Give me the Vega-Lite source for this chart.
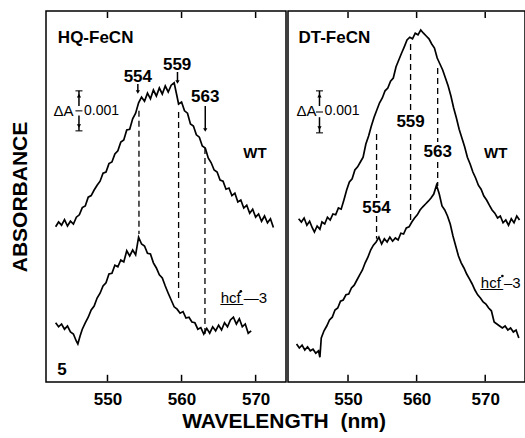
{
  "$schema": "https://vega.github.io/schema/vega-lite/v6.json",
  "padding": {"left": 8, "top": 10, "right": 3, "bottom": 6},
  "spacing": 0,
  "config": {
    "view": {"stroke": "black", "strokeWidth": 1.5},
    "font": "Liberation Sans",
    "axis": {"grid": false, "domain": false, "labelFont": "Liberation Sans", "labelFontSize": 17, "labelFontWeight": "bold", "labelColor": "black", "ticks": false, "tickSize": 0, "labelPadding": 9}
  },
  "title": {"text": "WAVELENGTH\u00a0\u00a0(nm)", "orient": "bottom", "anchor": "middle", "font": "Liberation Sans", "fontSize": 21, "fontWeight": "bold", "color": "black", "offset": 3, "dx": 17},
  "datasets": {
    "hq": [
      {"s":"WT","w":543.0,"a":3.88},{"s":"WT","w":543.4,"a":4.00},{"s":"WT","w":543.8,"a":3.92},{"s":"WT","w":544.2,"a":4.06},{"s":"WT","w":544.6,"a":3.90},{"s":"WT","w":545.0,"a":4.02},{"s":"WT","w":545.4,"a":3.95},{"s":"WT","w":545.8,"a":4.12},{"s":"WT","w":546.2,"a":4.18},{"s":"WT","w":546.6,"a":4.36},{"s":"WT","w":547.0,"a":4.40},{"s":"WT","w":547.4,"a":4.62},{"s":"WT","w":547.8,"a":4.66},{"s":"WT","w":548.2,"a":4.80},{"s":"WT","w":548.6,"a":4.92},{"s":"WT","w":549.0,"a":5.02},{"s":"WT","w":549.4,"a":5.22},{"s":"WT","w":549.8,"a":5.25},{"s":"WT","w":550.2,"a":5.46},{"s":"WT","w":550.6,"a":5.50},{"s":"WT","w":551.0,"a":5.70},{"s":"WT","w":551.4,"a":5.78},{"s":"WT","w":551.8,"a":6.00},{"s":"WT","w":552.2,"a":6.05},{"s":"WT","w":552.6,"a":6.30},{"s":"WT","w":553.0,"a":6.32},{"s":"WT","w":553.4,"a":6.58},{"s":"WT","w":553.8,"a":6.72},{"s":"WT","w":554.2,"a":6.98},{"s":"WT","w":554.6,"a":7.12},{"s":"WT","w":555.0,"a":7.02},{"s":"WT","w":555.4,"a":7.22},{"s":"WT","w":555.8,"a":7.08},{"s":"WT","w":556.2,"a":7.30},{"s":"WT","w":556.6,"a":7.15},{"s":"WT","w":557.0,"a":7.35},{"s":"WT","w":557.4,"a":7.20},{"s":"WT","w":557.8,"a":7.40},{"s":"WT","w":558.2,"a":7.25},{"s":"WT","w":558.6,"a":7.42},{"s":"WT","w":559.0,"a":7.48},{"s":"WT","w":559.3,"a":7.22},{"s":"WT","w":559.6,"a":6.95},{"s":"WT","w":560.0,"a":7.00},{"s":"WT","w":560.4,"a":6.78},{"s":"WT","w":560.8,"a":6.72},{"s":"WT","w":561.2,"a":6.45},{"s":"WT","w":561.6,"a":6.40},{"s":"WT","w":562.0,"a":6.18},{"s":"WT","w":562.4,"a":6.12},{"s":"WT","w":562.8,"a":5.90},{"s":"WT","w":563.2,"a":5.85},{"s":"WT","w":563.6,"a":5.60},{"s":"WT","w":564.0,"a":5.48},{"s":"WT","w":564.4,"a":5.30},{"s":"WT","w":564.8,"a":5.25},{"s":"WT","w":565.2,"a":5.05},{"s":"WT","w":565.6,"a":5.02},{"s":"WT","w":566.0,"a":4.82},{"s":"WT","w":566.4,"a":4.85},{"s":"WT","w":566.8,"a":4.66},{"s":"WT","w":567.2,"a":4.72},{"s":"WT","w":567.6,"a":4.50},{"s":"WT","w":568.0,"a":4.55},{"s":"WT","w":568.4,"a":4.35},{"s":"WT","w":568.8,"a":4.42},{"s":"WT","w":569.2,"a":4.22},{"s":"WT","w":569.6,"a":4.32},{"s":"WT","w":570.0,"a":4.12},{"s":"WT","w":570.4,"a":4.20},{"s":"WT","w":570.8,"a":4.02},{"s":"WT","w":571.2,"a":4.15},{"s":"WT","w":571.6,"a":3.98},{"s":"WT","w":572.0,"a":4.08},{"s":"WT","w":572.4,"a":3.86},
      {"s":"hcf","w":543.0,"a":1.48},{"s":"hcf","w":543.4,"a":1.38},{"s":"hcf","w":543.8,"a":1.45},{"s":"hcf","w":544.2,"a":1.32},{"s":"hcf","w":544.6,"a":1.40},{"s":"hcf","w":545.0,"a":1.25},{"s":"hcf","w":545.4,"a":1.20},{"s":"hcf","w":545.8,"a":1.02},{"s":"hcf","w":546.0,"a":0.95},{"s":"hcf","w":546.3,"a":1.15},{"s":"hcf","w":546.6,"a":1.32},{"s":"hcf","w":547.0,"a":1.48},{"s":"hcf","w":547.4,"a":1.62},{"s":"hcf","w":547.8,"a":1.80},{"s":"hcf","w":548.2,"a":1.90},{"s":"hcf","w":548.6,"a":2.10},{"s":"hcf","w":549.0,"a":2.22},{"s":"hcf","w":549.4,"a":2.40},{"s":"hcf","w":549.8,"a":2.48},{"s":"hcf","w":550.2,"a":2.70},{"s":"hcf","w":550.6,"a":2.72},{"s":"hcf","w":551.0,"a":2.92},{"s":"hcf","w":551.4,"a":2.88},{"s":"hcf","w":551.8,"a":3.05},{"s":"hcf","w":552.2,"a":3.00},{"s":"hcf","w":552.6,"a":3.28},{"s":"hcf","w":553.0,"a":3.15},{"s":"hcf","w":553.4,"a":3.30},{"s":"hcf","w":553.8,"a":3.18},{"s":"hcf","w":554.2,"a":3.62},{"s":"hcf","w":554.6,"a":3.45},{"s":"hcf","w":555.0,"a":3.40},{"s":"hcf","w":555.4,"a":3.22},{"s":"hcf","w":555.8,"a":3.20},{"s":"hcf","w":556.2,"a":2.98},{"s":"hcf","w":556.6,"a":2.85},{"s":"hcf","w":557.0,"a":2.68},{"s":"hcf","w":557.4,"a":2.60},{"s":"hcf","w":557.8,"a":2.40},{"s":"hcf","w":558.2,"a":2.22},{"s":"hcf","w":558.6,"a":2.05},{"s":"hcf","w":559.0,"a":1.88},{"s":"hcf","w":559.4,"a":1.82},{"s":"hcf","w":559.8,"a":1.72},{"s":"hcf","w":560.2,"a":1.76},{"s":"hcf","w":560.6,"a":1.60},{"s":"hcf","w":561.0,"a":1.62},{"s":"hcf","w":561.4,"a":1.50},{"s":"hcf","w":561.8,"a":1.48},{"s":"hcf","w":562.2,"a":1.32},{"s":"hcf","w":562.6,"a":1.36},{"s":"hcf","w":563.0,"a":1.20},{"s":"hcf","w":563.4,"a":1.34},{"s":"hcf","w":563.8,"a":1.22},{"s":"hcf","w":564.2,"a":1.38},{"s":"hcf","w":564.6,"a":1.28},{"s":"hcf","w":565.0,"a":1.42},{"s":"hcf","w":565.4,"a":1.30},{"s":"hcf","w":565.8,"a":1.48},{"s":"hcf","w":566.2,"a":1.38},{"s":"hcf","w":566.6,"a":1.55},{"s":"hcf","w":567.0,"a":1.62},{"s":"hcf","w":567.4,"a":1.45},{"s":"hcf","w":567.8,"a":1.58},{"s":"hcf","w":568.2,"a":1.38},{"s":"hcf","w":568.6,"a":1.45},{"s":"hcf","w":569.0,"a":1.22},{"s":"hcf","w":569.4,"a":1.28}
    ],
    "dt": [
      {"s":"WT","w":542.8,"a":4.08},{"s":"WT","w":543.2,"a":4.00},{"s":"WT","w":543.6,"a":4.10},{"s":"WT","w":544.0,"a":3.92},{"s":"WT","w":544.4,"a":4.02},{"s":"WT","w":544.8,"a":3.85},{"s":"WT","w":545.1,"a":3.75},{"s":"WT","w":545.5,"a":3.90},{"s":"WT","w":545.9,"a":3.82},{"s":"WT","w":546.2,"a":4.00},{"s":"WT","w":546.6,"a":3.95},{"s":"WT","w":547.0,"a":4.12},{"s":"WT","w":547.4,"a":4.05},{"s":"WT","w":547.8,"a":4.20},{"s":"WT","w":548.2,"a":4.18},{"s":"WT","w":548.6,"a":4.35},{"s":"WT","w":549.0,"a":4.32},{"s":"WT","w":549.4,"a":4.55},{"s":"WT","w":549.8,"a":4.80},{"s":"WT","w":550.2,"a":5.00},{"s":"WT","w":550.6,"a":5.08},{"s":"WT","w":551.0,"a":5.30},{"s":"WT","w":551.4,"a":5.38},{"s":"WT","w":551.8,"a":5.50},{"s":"WT","w":552.2,"a":5.62},{"s":"WT","w":552.6,"a":5.95},{"s":"WT","w":553.0,"a":6.15},{"s":"WT","w":553.4,"a":6.40},{"s":"WT","w":553.8,"a":6.62},{"s":"WT","w":554.2,"a":6.80},{"s":"WT","w":554.6,"a":6.98},{"s":"WT","w":555.0,"a":7.10},{"s":"WT","w":555.4,"a":7.28},{"s":"WT","w":555.8,"a":7.35},{"s":"WT","w":556.2,"a":7.52},{"s":"WT","w":556.6,"a":7.60},{"s":"WT","w":557.0,"a":7.88},{"s":"WT","w":557.4,"a":8.05},{"s":"WT","w":557.8,"a":8.22},{"s":"WT","w":558.2,"a":8.38},{"s":"WT","w":558.6,"a":8.55},{"s":"WT","w":559.0,"a":8.62},{"s":"WT","w":559.4,"a":8.58},{"s":"WT","w":559.8,"a":8.72},{"s":"WT","w":560.2,"a":8.68},{"s":"WT","w":560.6,"a":8.80},{"s":"WT","w":561.0,"a":8.72},{"s":"WT","w":561.4,"a":8.65},{"s":"WT","w":561.8,"a":8.58},{"s":"WT","w":562.2,"a":8.45},{"s":"WT","w":562.6,"a":8.35},{"s":"WT","w":563.0,"a":8.10},{"s":"WT","w":563.4,"a":7.95},{"s":"WT","w":563.8,"a":7.80},{"s":"WT","w":564.2,"a":7.60},{"s":"WT","w":564.6,"a":7.40},{"s":"WT","w":565.0,"a":7.15},{"s":"WT","w":565.4,"a":6.85},{"s":"WT","w":565.8,"a":6.60},{"s":"WT","w":566.2,"a":6.32},{"s":"WT","w":566.6,"a":6.10},{"s":"WT","w":567.0,"a":5.88},{"s":"WT","w":567.4,"a":5.62},{"s":"WT","w":567.8,"a":5.45},{"s":"WT","w":568.2,"a":5.25},{"s":"WT","w":568.6,"a":5.10},{"s":"WT","w":569.0,"a":4.92},{"s":"WT","w":569.4,"a":4.82},{"s":"WT","w":569.8,"a":4.65},{"s":"WT","w":570.2,"a":4.55},{"s":"WT","w":570.6,"a":4.42},{"s":"WT","w":571.0,"a":4.30},{"s":"WT","w":571.4,"a":4.22},{"s":"WT","w":571.8,"a":4.10},{"s":"WT","w":572.2,"a":4.15},{"s":"WT","w":572.6,"a":3.98},{"s":"WT","w":573.0,"a":4.05},{"s":"WT","w":573.4,"a":3.92},{"s":"WT","w":573.8,"a":4.08},{"s":"WT","w":574.2,"a":3.98},{"s":"WT","w":574.6,"a":4.15},{"s":"WT","w":575.0,"a":4.05},
      {"s":"hcf","w":542.5,"a":0.95},{"s":"hcf","w":542.9,"a":0.85},{"s":"hcf","w":543.3,"a":0.92},{"s":"hcf","w":543.7,"a":0.80},{"s":"hcf","w":544.1,"a":0.88},{"s":"hcf","w":544.5,"a":0.78},{"s":"hcf","w":544.9,"a":0.82},{"s":"hcf","w":545.3,"a":0.72},{"s":"hcf","w":545.7,"a":0.78},{"s":"hcf","w":545.9,"a":0.62},{"s":"hcf","w":546.1,"a":1.10},{"s":"hcf","w":546.5,"a":1.28},{"s":"hcf","w":546.9,"a":1.40},{"s":"hcf","w":547.3,"a":1.55},{"s":"hcf","w":547.7,"a":1.62},{"s":"hcf","w":548.1,"a":1.80},{"s":"hcf","w":548.5,"a":1.85},{"s":"hcf","w":548.9,"a":2.02},{"s":"hcf","w":549.3,"a":2.05},{"s":"hcf","w":549.7,"a":2.18},{"s":"hcf","w":550.1,"a":2.20},{"s":"hcf","w":550.5,"a":2.35},{"s":"hcf","w":550.9,"a":2.42},{"s":"hcf","w":551.3,"a":2.55},{"s":"hcf","w":551.7,"a":2.68},{"s":"hcf","w":552.1,"a":2.80},{"s":"hcf","w":552.5,"a":2.98},{"s":"hcf","w":552.9,"a":3.12},{"s":"hcf","w":553.3,"a":3.30},{"s":"hcf","w":553.7,"a":3.42},{"s":"hcf","w":554.1,"a":3.50},{"s":"hcf","w":554.5,"a":3.62},{"s":"hcf","w":554.9,"a":3.45},{"s":"hcf","w":555.3,"a":3.58},{"s":"hcf","w":555.7,"a":3.50},{"s":"hcf","w":556.1,"a":3.62},{"s":"hcf","w":556.5,"a":3.52},{"s":"hcf","w":556.9,"a":3.60},{"s":"hcf","w":557.3,"a":3.55},{"s":"hcf","w":557.7,"a":3.72},{"s":"hcf","w":558.1,"a":3.70},{"s":"hcf","w":558.5,"a":3.85},{"s":"hcf","w":558.9,"a":3.88},{"s":"hcf","w":559.3,"a":4.00},{"s":"hcf","w":559.7,"a":4.10},{"s":"hcf","w":560.1,"a":4.18},{"s":"hcf","w":560.5,"a":4.30},{"s":"hcf","w":560.9,"a":4.38},{"s":"hcf","w":561.3,"a":4.45},{"s":"hcf","w":561.7,"a":4.52},{"s":"hcf","w":562.1,"a":4.60},{"s":"hcf","w":562.5,"a":4.70},{"s":"hcf","w":562.9,"a":4.92},{"s":"hcf","w":563.3,"a":4.70},{"s":"hcf","w":563.7,"a":4.40},{"s":"hcf","w":564.1,"a":4.30},{"s":"hcf","w":564.5,"a":4.15},{"s":"hcf","w":564.9,"a":3.95},{"s":"hcf","w":565.3,"a":3.65},{"s":"hcf","w":565.7,"a":3.40},{"s":"hcf","w":566.1,"a":3.15},{"s":"hcf","w":566.5,"a":2.98},{"s":"hcf","w":566.9,"a":2.85},{"s":"hcf","w":567.3,"a":2.70},{"s":"hcf","w":567.7,"a":2.58},{"s":"hcf","w":568.1,"a":2.45},{"s":"hcf","w":568.5,"a":2.30},{"s":"hcf","w":568.9,"a":2.18},{"s":"hcf","w":569.3,"a":2.10},{"s":"hcf","w":569.7,"a":2.00},{"s":"hcf","w":570.1,"a":1.95},{"s":"hcf","w":570.5,"a":1.85},{"s":"hcf","w":570.9,"a":1.78},{"s":"hcf","w":571.3,"a":1.50},{"s":"hcf","w":571.7,"a":1.45},{"s":"hcf","w":572.1,"a":1.40},{"s":"hcf","w":572.5,"a":1.35},{"s":"hcf","w":572.9,"a":1.40},{"s":"hcf","w":573.3,"a":1.30},{"s":"hcf","w":573.7,"a":1.35},{"s":"hcf","w":574.1,"a":1.25},{"s":"hcf","w":574.5,"a":1.30},{"s":"hcf","w":574.9,"a":1.10}
    ],
    "hqDash": [{"w":554.25,"a":6.78,"a2":3.7},{"w":559.6,"a":6.75,"a2":2.03},{"w":563.16,"a":5.85,"a2":1.2}],
    "dtDash": [{"w":554.16,"a":6.2,"a2":4.6},{"w":554.16,"a":4.15,"a2":3.58},{"w":559.12,"a":8.45,"a2":6.78},{"w":559.12,"a":6.2,"a2":3.95},{"w":563.07,"a":7.85,"a2":6.0},{"w":563.07,"a":5.5,"a2":4.9}],
    "hqSeg": [{"w":554.1,"a":7.45,"a2":7.25},{"w":559.45,"a":7.75,"a2":7.5},{"w":563.2,"a":6.9,"a2":6.3},{"w":546.15,"a":7.28,"a2":6.9},{"w":546.15,"a":6.66,"a2":6.28},
      {"w":550,"a":0.02,"a2":0.18},{"w":560,"a":0.02,"a2":0.18},{"w":570,"a":0.02,"a2":0.18},{"w":550,"a":9.1,"a2":9.25},{"w":560,"a":9.1,"a2":9.25},{"w":570,"a":9.1,"a2":9.25}],
    "hqHead": [{"w":554.1,"a":7.25,"dir":"down"},{"w":559.45,"a":7.5,"dir":"down"},{"w":563.2,"a":6.3,"dir":"down"},{"w":546.15,"a":7.16,"dir":"up"},{"w":546.15,"a":6.4,"dir":"down"}],
    "hqTick": [{"w":546.15,"a":7.28},{"w":546.15,"a":6.78},{"w":546.15,"a":6.28}],
    "hqDot": [{"w":568.0,"a":2.27}],
    "dtSeg": [{"w":545.84,"a":7.28,"a2":6.9},{"w":545.84,"a":6.62,"a2":6.23},
      {"w":550,"a":0.02,"a2":0.18},{"w":560,"a":0.02,"a2":0.18},{"w":570,"a":0.02,"a2":0.18},{"w":550,"a":9.1,"a2":9.25},{"w":560,"a":9.1,"a2":9.25},{"w":570,"a":9.1,"a2":9.25}],
    "dtHead": [{"w":545.84,"a":7.16,"dir":"up"},{"w":545.84,"a":6.35,"dir":"down"}],
    "dtTick": [{"w":545.84,"a":7.28},{"w":545.84,"a":6.75},{"w":545.84,"a":6.23}],
    "dtDot": [{"w":572.5,"a":2.65}],
    "hqText": [
      {"role":"panel","w":543.3,"a":8.6,"t":"HQ-FeCN"},
      {"role":"peak","w":554.1,"a":7.62,"t":"554"},{"role":"peak","w":559.4,"a":7.93,"t":"559"},{"role":"peak","w":563.2,"a":7.12,"t":"563"},
      {"role":"delta","w":544.06,"a":6.78,"t":"ΔA"},
      {"role":"unit","w":546.83,"a":6.78,"t":"0.001"},
      {"role":"wt","w":569.9,"a":5.73,"t":"WT"},
      {"role":"mut","w":568.42,"a":2.1,"t":"h̲c̲f̲\u2009—3"},
      {"role":"num","w":543.86,"a":0.3,"t":"5"}
    ],
    "dtText": [
      {"role":"panel","w":542.77,"a":8.6,"t":"DT-FeCN"},
      {"role":"peak","w":554.16,"a":4.35,"t":"554"},{"role":"peak","w":559.12,"a":6.5,"t":"559"},{"role":"peak","w":563.07,"a":5.75,"t":"563"},
      {"role":"delta","w":543.94,"a":6.78,"t":"ΔA"},
      {"role":"unit","w":546.57,"a":6.78,"t":"0.001"},
      {"role":"wt","w":571.53,"a":5.73,"t":"WT"},
      {"role":"mut","w":572.26,"a":2.48,"t":"h̲c̲f̲\u2009–3"}
    ]
  },
  "hconcat": [
    {
      "width": 240, "height": 371,
      "layer": [
        {"data": {"name": "hq"}, "mark": {"type": "line", "color": "black", "strokeWidth": 1.7},
         "encoding": {
           "x": {"field": "w", "type": "quantitative", "scale": {"domain": [541.7, 574.1], "nice": false, "zero": false}, "axis": {"orient": "bottom", "values": [550, 560, 570], "title": null}},
           "y": {"field": "a", "type": "quantitative", "scale": {"domain": [0, 9.275], "nice": false, "zero": false}, "axis": {"title": "ABSORBANCE", "labels": false, "titleFontSize": 21, "titleFont": "Liberation Sans", "titleFontWeight": "bold", "titlePadding": 16, "titleColor": "black"}},
           "detail": {"field": "s"}
         }},
        {"data": {"name": "hqDash"}, "mark": {"type": "rule", "color": "black", "strokeWidth": 1.3, "strokeDash": [6, 4]},
         "encoding": {"x": {"field": "w", "type": "quantitative"}, "y": {"field": "a", "type": "quantitative"}, "y2": {"field": "a2"}}},
        {"data": {"name": "hqSeg"}, "mark": {"type": "rule", "color": "black", "strokeWidth": 1.5},
         "encoding": {"x": {"field": "w", "type": "quantitative"}, "y": {"field": "a", "type": "quantitative"}, "y2": {"field": "a2"}}},
        {"data": {"name": "hqHead"}, "mark": {"type": "point", "filled": true, "color": "black", "size": 18, "opacity": 1},
         "encoding": {"x": {"field": "w", "type": "quantitative"}, "y": {"field": "a", "type": "quantitative"},
           "shape": {"field": "dir", "type": "nominal", "scale": {"domain": ["down", "up"], "range": ["triangle-down", "triangle-up"]}, "legend": null}}},
        {"data": {"name": "hqDot"}, "mark": {"type": "circle", "color": "black", "size": 7, "opacity": 1},
         "encoding": {"x": {"field": "w", "type": "quantitative"}, "y": {"field": "a", "type": "quantitative"}}},
        {"data": {"name": "hqTick"}, "mark": {"type": "tick", "orient": "horizontal", "color": "black", "size": 7, "thickness": 1.5},
         "encoding": {"x": {"field": "w", "type": "quantitative"}, "y": {"field": "a", "type": "quantitative"}}},
        {"data": {"name": "hqText"}, "transform": [{"filter": "datum.role === 'panel'"}], "mark": {"type": "text", "align": "left", "baseline": "middle", "font": "Liberation Sans", "fontSize": 17, "fontWeight": "bold", "color": "black"},
         "encoding": {"x": {"field": "w", "type": "quantitative"}, "y": {"field": "a", "type": "quantitative"}, "text": {"field": "t"}}},
        {"data": {"name": "hqText"}, "transform": [{"filter": "datum.role === 'peak' || datum.role === 'num'"}], "mark": {"type": "text", "align": "center", "baseline": "middle", "font": "Liberation Sans", "fontSize": 17, "fontWeight": "bold", "color": "black"},
         "encoding": {"x": {"field": "w", "type": "quantitative"}, "y": {"field": "a", "type": "quantitative"}, "text": {"field": "t"}}},
        {"data": {"name": "hqText"}, "transform": [{"filter": "datum.role === 'delta'"}], "mark": {"type": "text", "align": "center", "baseline": "middle", "font": "Liberation Sans", "fontSize": 15, "color": "black"},
         "encoding": {"x": {"field": "w", "type": "quantitative"}, "y": {"field": "a", "type": "quantitative"}, "text": {"field": "t"}}},
        {"data": {"name": "hqText"}, "transform": [{"filter": "datum.role === 'unit'"}], "mark": {"type": "text", "align": "left", "baseline": "middle", "font": "Liberation Sans", "fontSize": 14, "color": "black"},
         "encoding": {"x": {"field": "w", "type": "quantitative"}, "y": {"field": "a", "type": "quantitative"}, "text": {"field": "t"}}},
        {"data": {"name": "hqText"}, "transform": [{"filter": "datum.role === 'wt'"}], "mark": {"type": "text", "align": "center", "baseline": "middle", "font": "Liberation Sans", "fontSize": 15, "fontWeight": "bold", "color": "black"},
         "encoding": {"x": {"field": "w", "type": "quantitative"}, "y": {"field": "a", "type": "quantitative"}, "text": {"field": "t"}}},
        {"data": {"name": "hqText"}, "transform": [{"filter": "datum.role === 'mut'"}], "mark": {"type": "text", "align": "center", "baseline": "middle", "font": "Liberation Sans", "fontSize": 15, "color": "black"},
         "encoding": {"x": {"field": "w", "type": "quantitative"}, "y": {"field": "a", "type": "quantitative"}, "text": {"field": "t"}}}
      ]
    },
    {
      "width": 237, "height": 371,
      "layer": [
        {"data": {"name": "dt"}, "mark": {"type": "line", "color": "black", "strokeWidth": 1.7},
         "encoding": {
           "x": {"field": "w", "type": "quantitative", "scale": {"domain": [541.25, 575.8], "nice": false, "zero": false}, "axis": {"orient": "bottom", "values": [550, 560, 570], "title": null}},
           "y": {"field": "a", "type": "quantitative", "scale": {"domain": [0, 9.275], "nice": false, "zero": false}, "axis": null},
           "detail": {"field": "s"}
         }},
        {"data": {"name": "dtDash"}, "mark": {"type": "rule", "color": "black", "strokeWidth": 1.3, "strokeDash": [6, 4]},
         "encoding": {"x": {"field": "w", "type": "quantitative"}, "y": {"field": "a", "type": "quantitative"}, "y2": {"field": "a2"}}},
        {"data": {"name": "dtSeg"}, "mark": {"type": "rule", "color": "black", "strokeWidth": 1.5},
         "encoding": {"x": {"field": "w", "type": "quantitative"}, "y": {"field": "a", "type": "quantitative"}, "y2": {"field": "a2"}}},
        {"data": {"name": "dtHead"}, "mark": {"type": "point", "filled": true, "color": "black", "size": 18, "opacity": 1},
         "encoding": {"x": {"field": "w", "type": "quantitative"}, "y": {"field": "a", "type": "quantitative"},
           "shape": {"field": "dir", "type": "nominal", "scale": {"domain": ["down", "up"], "range": ["triangle-down", "triangle-up"]}, "legend": null}}},
        {"data": {"name": "dtDot"}, "mark": {"type": "circle", "color": "black", "size": 7, "opacity": 1},
         "encoding": {"x": {"field": "w", "type": "quantitative"}, "y": {"field": "a", "type": "quantitative"}}},
        {"data": {"name": "dtTick"}, "mark": {"type": "tick", "orient": "horizontal", "color": "black", "size": 7, "thickness": 1.5},
         "encoding": {"x": {"field": "w", "type": "quantitative"}, "y": {"field": "a", "type": "quantitative"}}},
        {"data": {"name": "dtText"}, "transform": [{"filter": "datum.role === 'panel'"}], "mark": {"type": "text", "align": "left", "baseline": "middle", "font": "Liberation Sans", "fontSize": 17, "fontWeight": "bold", "color": "black"},
         "encoding": {"x": {"field": "w", "type": "quantitative"}, "y": {"field": "a", "type": "quantitative"}, "text": {"field": "t"}}},
        {"data": {"name": "dtText"}, "transform": [{"filter": "datum.role === 'peak'"}], "mark": {"type": "text", "align": "center", "baseline": "middle", "font": "Liberation Sans", "fontSize": 17, "fontWeight": "bold", "color": "black"},
         "encoding": {"x": {"field": "w", "type": "quantitative"}, "y": {"field": "a", "type": "quantitative"}, "text": {"field": "t"}}},
        {"data": {"name": "dtText"}, "transform": [{"filter": "datum.role === 'delta'"}], "mark": {"type": "text", "align": "center", "baseline": "middle", "font": "Liberation Sans", "fontSize": 15, "color": "black"},
         "encoding": {"x": {"field": "w", "type": "quantitative"}, "y": {"field": "a", "type": "quantitative"}, "text": {"field": "t"}}},
        {"data": {"name": "dtText"}, "transform": [{"filter": "datum.role === 'unit'"}], "mark": {"type": "text", "align": "left", "baseline": "middle", "font": "Liberation Sans", "fontSize": 14, "color": "black"},
         "encoding": {"x": {"field": "w", "type": "quantitative"}, "y": {"field": "a", "type": "quantitative"}, "text": {"field": "t"}}},
        {"data": {"name": "dtText"}, "transform": [{"filter": "datum.role === 'wt'"}], "mark": {"type": "text", "align": "center", "baseline": "middle", "font": "Liberation Sans", "fontSize": 15, "fontWeight": "bold", "color": "black"},
         "encoding": {"x": {"field": "w", "type": "quantitative"}, "y": {"field": "a", "type": "quantitative"}, "text": {"field": "t"}}},
        {"data": {"name": "dtText"}, "transform": [{"filter": "datum.role === 'mut'"}], "mark": {"type": "text", "align": "center", "baseline": "middle", "font": "Liberation Sans", "fontSize": 15, "color": "black"},
         "encoding": {"x": {"field": "w", "type": "quantitative"}, "y": {"field": "a", "type": "quantitative"}, "text": {"field": "t"}}}
      ]
    }
  ]
}
